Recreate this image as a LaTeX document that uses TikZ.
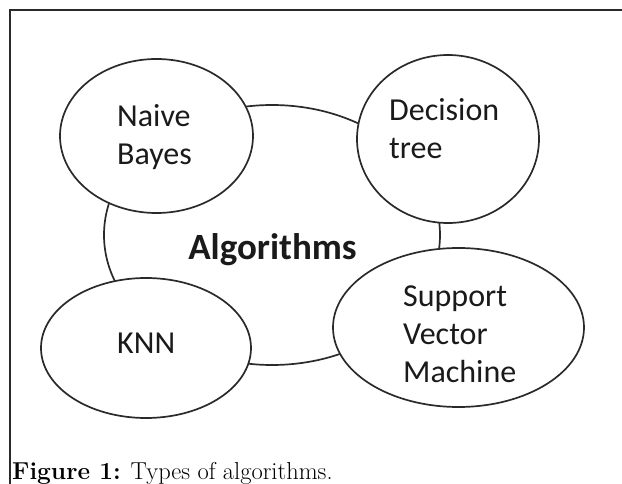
\documentclass[tikz,border=0pt]{standalone}
\usepackage{fontspec}
\usetikzlibrary{shapes.geometric}
\newfontfamily\labelfont{Carlito}
\definecolor{inkline}{HTML}{2A2A2A}
\definecolor{inktext}{HTML}{1A1A1A}
\tikzset{
  ring/.style={ellipse, draw=inkline, line width=1.7pt, inner sep=0pt},
  member/.style={ring, fill=white},
  lbl/.style={font=\labelfont\fontsize{32}{38}\selectfont, text=inktext,
              align=left, inner sep=0pt, anchor=base west},
  hub/.style={font=\labelfont\bfseries\fontsize{37}{42}\selectfont, text=inktext,
              inner sep=0pt, anchor=base},
  figcaption/.style={font=\fontsize{24.5}{28}\selectfont, text=black, inner sep=0pt,
              anchor=base west}
}
\begin{document}
\begin{tikzpicture}[x=1pt, y=-1pt]
  \useasboundingbox (0,0) rectangle (622,484);
  % frame along the top and the left side
  \draw[inkline, line width=1.6pt] (10,484) -- (10,10) -- (622,10);

  % central ring, partly hidden by the four algorithm rings
  \node[ring, minimum width=336pt, minimum height=260pt] (alg) at (272,235) {};
  \node[hub] (algtitle) at (272.5,260) {Algorithms};

  \node[member, minimum width=193pt, minimum height=154pt] (nb)  at (156.5,136) {};
  \node[member, minimum width=182pt, minimum height=168pt] (dt)  at (448,139) {};
  \node[member, minimum width=251pt, minimum height=159pt] (svm) at (458.5,327.5) {};
  \node[member, minimum width=210pt, minimum height=140pt] (knn) at (146,348) {};

  % multi-line labels are placed by the baseline of their last line
  \node[lbl] (nbtext)  at (117,165) {Naive\\Bayes};
  \node[lbl] (dttext)  at (389,159) {Decision\\tree};
  \node[lbl] (svmtext) at (403,382) {Support\\Vector\\Machine};
  \node[lbl] (knntext) at (117,353) {KNN};

  \node[figcaption] (caption) at (12,479) {\textbf{Figure 1:} Types of algorithms.};
\end{tikzpicture}
\end{document}
